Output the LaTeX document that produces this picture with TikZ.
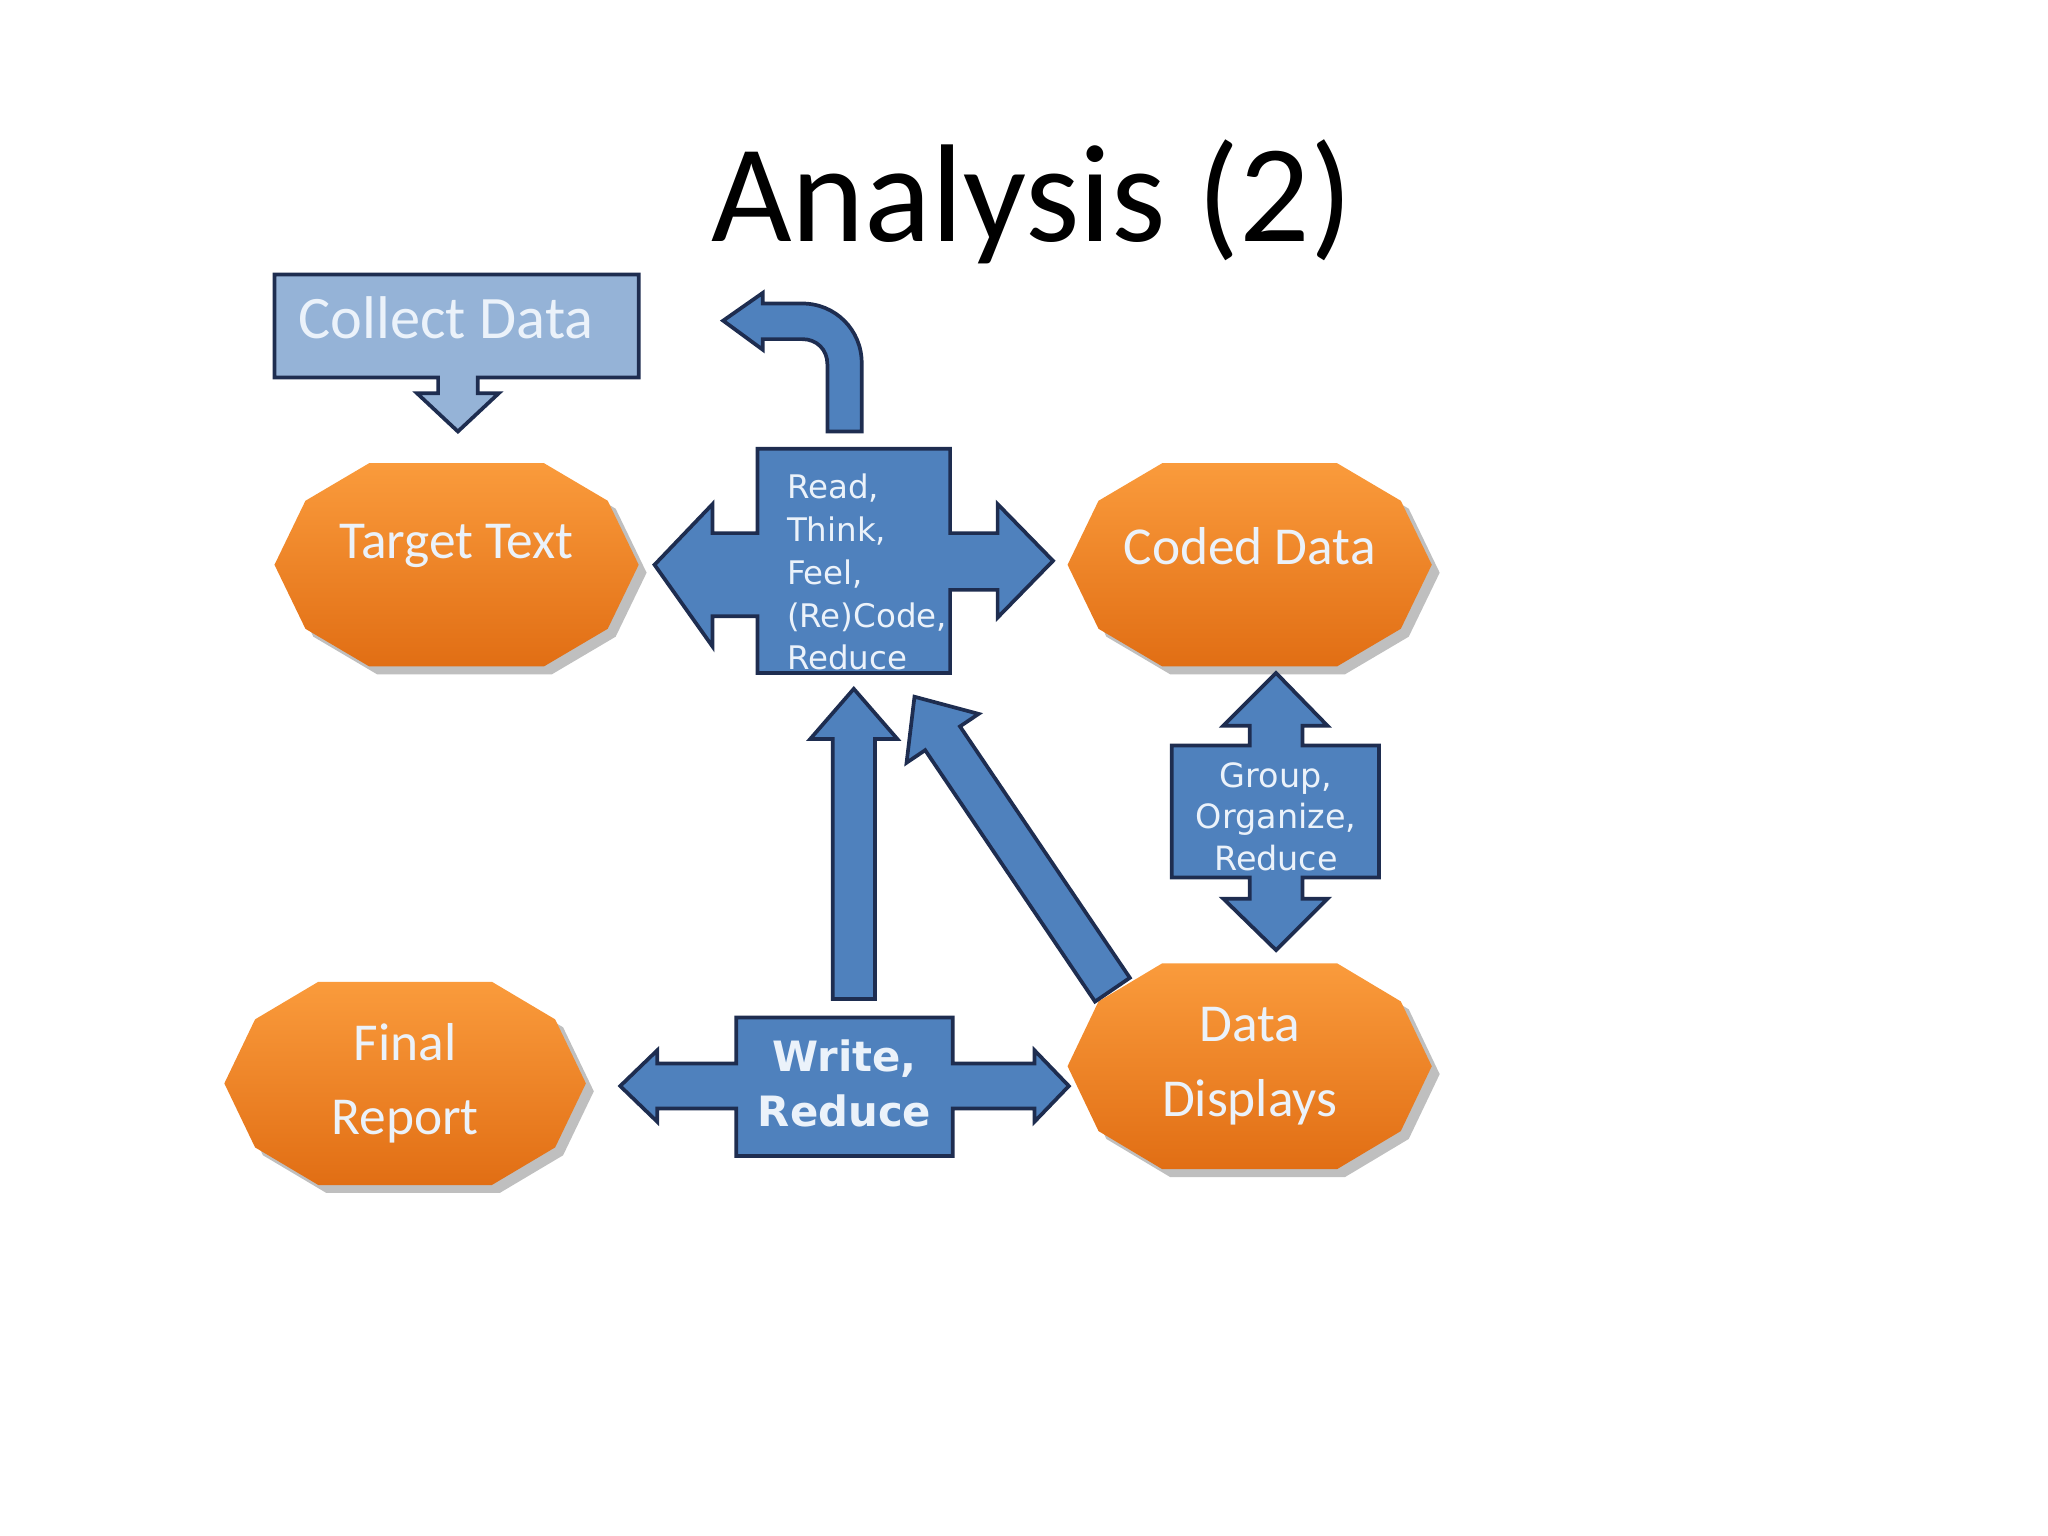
\documentclass[tikz,border=0pt]{standalone}
\usepackage{fontspec}
\setmainfont{Carlito}
\newfontfamily\dv{DejaVu Sans}
\begin{document}
\begin{tikzpicture}[x=0.01cm,y=-0.01cm]
\definecolor{ablue}{RGB}{79,129,189}
\definecolor{lblue}{RGB}{149,179,215}
\definecolor{edge}{RGB}{30,45,80}
\definecolor{otop}{RGB}{250,155,60}
\definecolor{obot}{RGB}{225,110,20}
\definecolor{wtxt}{RGB}{235,242,250}
\tikzset{
  blk/.style={fill=ablue,draw=edge,line width=0.8pt,line join=miter},
  oct/.style={top color=otop,bottom color=obot,draw=none},
  otext/.style={text=wtxt,font=\fontsize{11.5}{14}\selectfont,align=center},
  btext/.style={text=wtxt,font=\dv},
}
\useasboundingbox (0,0) rectangle (1552,1164);
\newcommand\octa[4]{% cx cy halfw halfh
  \fill[black!25] ({#1-#3+6},{#2+6}) -- ({#1-#3*0.83+6},{#2-#4*0.63+6}) -- ({#1-#3*0.48+6},{#2-#4+6}) -- ({#1+#3*0.48+6},{#2-#4+6}) -- ({#1+#3*0.83+6},{#2-#4*0.63+6}) -- ({#1+#3+6},{#2+6}) -- ({#1+#3*0.83+6},{#2+#4*0.63+6}) -- ({#1+#3*0.48+6},{#2+#4+6}) -- ({#1-#3*0.48+6},{#2+#4+6}) -- ({#1-#3*0.83+6},{#2+#4*0.63+6}) -- cycle;
  \shade[oct] ({#1-#3},#2) -- ({#1-#3*0.83},{#2-#4*0.63}) -- ({#1-#3*0.48},{#2-#4}) -- ({#1+#3*0.48},{#2-#4}) -- ({#1+#3*0.83},{#2-#4*0.63}) -- ({#1+#3},#2) -- ({#1+#3*0.83},{#2+#4*0.63}) -- ({#1+#3*0.48},{#2+#4}) -- ({#1-#3*0.48},{#2+#4}) -- ({#1-#3*0.83},{#2+#4*0.63}) -- cycle;}

% title
\node (title) at (782,153) {\fontsize{30}{36}\selectfont Analysis (2)};

% collect data callout
\draw[fill=lblue,draw=edge,line width=0.8pt] (208,208) -- (484,208) -- (484,286) -- (362,286) -- (362,298) -- (378,298) -- (347,327) -- (316,298) -- (332,298) -- (332,286) -- (208,286) -- cycle;
\node[text=wtxt,font=\fontsize{13}{15}\selectfont] (collect) at (338,241) {Collect Data};

% octagons
\octa{346}{428}{138}{77}
\node[otext] (target) at (346,414) {Target Text};
\octa{947}{428}{138}{77}
\node[otext] (coded) at (947,414) {Coded Data};
\octa{947}{808}{138}{78}
\node[otext] (displays) at (947,808) {Data\\[2pt]Displays};
\octa{307}{821}{137}{77}
\node[otext] (report) at (307,821) {Final\\[2pt]Report};

% read/think cross with bent arrow
\draw[blk] (627,327) -- (653,327) -- (653,275) .. controls (653,250) and (633,230) .. (608,230) -- (578,230) -- (578,222) -- (548,243) -- (578,265) -- (578,257) -- (608,257) .. controls (619,257) and (627,265) .. (627,276) -- cycle;
\draw[blk] (574,340) -- (720,340) -- (720,404) -- (756,404) -- (756,382) -- (798,425) -- (756,468) -- (756,447) -- (720,447) -- (720,510) -- (574,510) -- (574,467) -- (540,467) -- (540,490) -- (496,428) -- (540,382) -- (540,404) -- (574,404) -- cycle;
\node[btext,font=\dv\fontsize{7}{9.2}\selectfont,align=left,anchor=north west] (read) at (584,347) {Read,\\Think,\\Feel,\\(Re)Code,\\Reduce};

% group / organize
\draw[blk] (888,565) -- (947,565) -- (947,550) -- (927,550) -- (967,510) -- (1006,550) -- (987,550) -- (987,565) -- (1045,565) -- (1045,665) -- (987,665) -- (987,681) -- (1006,681) -- (967,720) -- (927,681) -- (947,681) -- (947,665) -- (888,665) -- cycle;
\node[btext,font=\dv\fontsize{7.2}{9}\selectfont,align=center] (group) at (967,619) {Group,\\Organize,\\Reduce};

% vertical arrow
\draw[blk] (631,757) -- (631,560) -- (614,560) -- (647,522) -- (680,560) -- (663,560) -- (663,757) -- cycle;
% diagonal arrow
\draw[blk] (829.8,759.0) -- (701.1,568.5) -- (687.0,578.0) -- (693,528) -- (741.6,541.0) -- (727.5,550.5) -- (856.2,741.0) -- cycle;

% write / reduce
\draw[blk] (558,771) -- (722,771) -- (722,806) -- (784,806) -- (784,796) -- (810,823) -- (784,850) -- (784,840) -- (722,840) -- (722,876) -- (558,876) -- (558,840) -- (498,840) -- (498,850) -- (470,823) -- (498,796) -- (498,806) -- (558,806) -- cycle;
\node[btext,font=\dv\fontsize{9}{12}\selectfont\bfseries,align=center] (write) at (640,821) {Write,\\Reduce};
\end{tikzpicture}
\end{document}
